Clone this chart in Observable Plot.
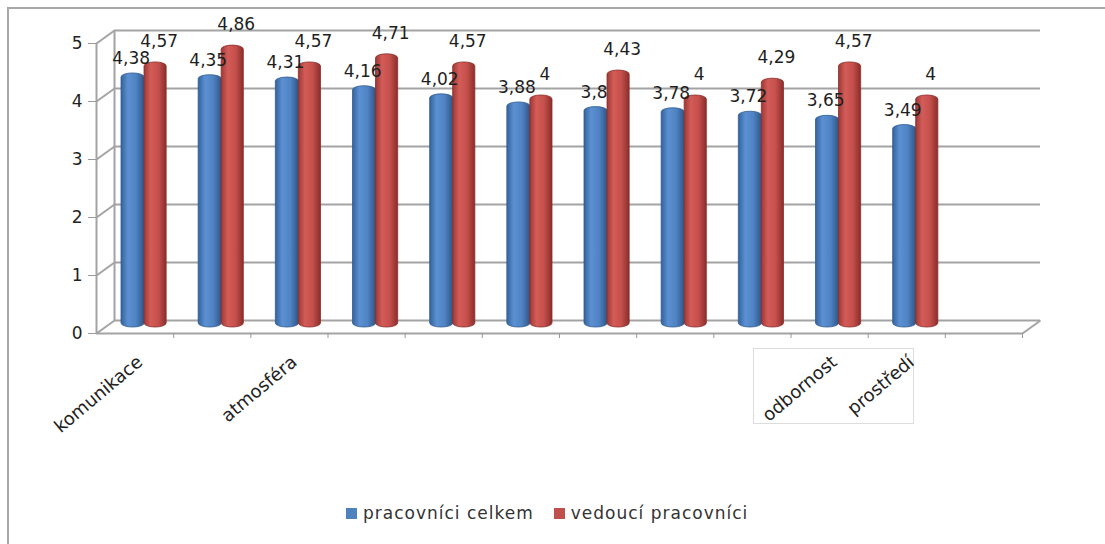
<!DOCTYPE html>
<html>
<head>
<meta charset="utf-8">
<script src="https://cdn.jsdelivr.net/npm/d3@7"></script>
<script src="https://cdn.jsdelivr.net/npm/@observablehq/plot@0.6"></script>
<style>
  html, body { margin: 0; padding: 0; background: #fff; }
  #page { position: relative; width: 1105px; height: 544px; overflow: hidden; font-family: "DejaVu Sans", sans-serif; }
  #edge { position: absolute; left: 7px; top: 7px; right: -5px; bottom: -5px; border-top: 2px solid #a8a8a8; border-left: 2px solid #a8a8a8; }
  #patch { position: absolute; left: 753px; top: 348px; width: 159px; height: 74px; border: 1px solid #dcdcdc; }
  #chart { position: absolute; left: 0; top: 0; }
  #legend { position: absolute; top: 503px; left: 346px; display: flex; gap: 20px; font-size: 17px; letter-spacing: 1px; color: #333; }
  #legend span.item { display: flex; align-items: center; gap: 6px; }
  #legend i { display: inline-block; width: 11px; height: 11px; }
</style>
</head>
<body>
<svg width="0" height="0" style="position:absolute">
  <defs>
    <linearGradient id="blueCyl" x1="0" x2="1" y1="0" y2="0">
      <stop offset="0%" stop-color="#34639d"/>
      <stop offset="30%" stop-color="#5b90d2"/>
      <stop offset="65%" stop-color="#4f83c3"/>
      <stop offset="100%" stop-color="#2e5687"/>
    </linearGradient>
    <linearGradient id="redCyl" x1="0" x2="1" y1="0" y2="0">
      <stop offset="0%" stop-color="#9c3936"/>
      <stop offset="30%" stop-color="#d45c58"/>
      <stop offset="65%" stop-color="#c44f4b"/>
      <stop offset="100%" stop-color="#8a2e2b"/>
    </linearGradient>
  </defs>
</svg>
<div id="page">
  <div id="edge"></div>
  <div id="patch"></div>
  <div id="chart"></div>
  <div id="legend"></div>
</div>
<script>
// Survey scores (scale 0–5) by area; only some areas carry a printed name.
const categories = ["komunikace", "", "atmosféra", "", "", "", "", "", "", "odbornost", "prostředí"];
const celkem = [4.38, 4.35, 4.31, 4.16, 4.02, 3.88, 3.8, 3.78, 3.72, 3.65, 3.49];
const vedouci = [4.57, 4.86, 4.57, 4.71, 4.57, 4, 4.43, 4, 4.29, 4.57, 4];
const seriesNames = ["pracovníci celkem", "vedoucí pracovníci"];
const seriesColors = ["#4f81bd", "#c0504d"];
const yTicks = [0, 1, 2, 3, 4, 5];
const slotCount = 12; // one spare slot at the right end of the floor

const fmt = v => String(v).replace(".", ",");

const rows = [];
categories.forEach((c, i) => {
  rows.push({i, s: 0, v: celkem[i]});
  rows.push({i, s: 1, v: vedouci[i]});
});
const blue = rows.filter(d => d.s === 0);
const red = rows.filter(d => d.s === 1);
const named = categories.map((name, i) => ({i, name})).filter(d => d.name);

// depth of the pseudo-3D box, expressed in scale units
const depthX = 18 / 77.08;
const depthY = 13 / 58.2;
const wall = "#a3a3a3";

const chart = Plot.plot({
  width: 1105,
  height: 470,
  marginLeft: 96,
  marginRight: 83,
  marginTop: 43,
  marginBottom: 137,
  style: {fontFamily: "DejaVu Sans, sans-serif", fontSize: "17px", background: "transparent", overflow: "visible"},
  x: {domain: [0, slotCount], axis: null},
  y: {domain: [0, 5], axis: null},
  marks: [
    // back wall gridlines and left wall edge
    Plot.ruleY(yTicks, {y: d => d + depthY, x1: depthX, x2: slotCount + depthX, stroke: wall, strokeWidth: 2}),
    Plot.ruleX([depthX], {y1: depthY, y2: 5 + depthY, stroke: wall, strokeWidth: 2}),
    // side wall diagonals from the front axis to the back wall
    Plot.link(yTicks, {x1: 0, y1: d => d, x2: depthX, y2: d => d + depthY, stroke: wall, strokeWidth: 2}),
    Plot.ruleX([0], {y1: 0, y2: 5, stroke: wall, strokeWidth: 2}),
    // floor front edge and its right corner
    Plot.ruleY([0], {x1: 0, x2: slotCount, stroke: wall, strokeWidth: 2}),
    Plot.link([0], {x1: slotCount, y1: 0, x2: slotCount + depthX, y2: depthY, stroke: wall, strokeWidth: 2}),
    Plot.axisY({ticks: yTicks, tickFormat: d => String(d), tickSize: 8, tickPadding: 6, stroke: "#999", fill: "#222", fontSize: 17, label: null}),
    Plot.axisX({ticks: d3.range(1, slotCount + 1), tickSize: 5, tickFormat: () => "", stroke: "#999", label: null}),
    // cylinders
    Plot.rect(blue, {x1: d => d.i, x2: d => d.i + 1, y1: 0, y2: "v", insetLeft: 15, insetRight: 39, dx: 10, dy: -6,
      rx: 11.5, ry: 4, fill: "url(#blueCyl)", stroke: "#2f5a8f", strokeWidth: 0.8}),
    Plot.rect(red, {x1: d => d.i, x2: d => d.i + 1, y1: 0, y2: "v", insetLeft: 38, insetRight: 17, dx: 10, dy: -6,
      rx: 11, ry: 4, fill: "url(#redCyl)", stroke: "#8a2d2a", strokeWidth: 0.8}),
    // value labels
    Plot.text(blue, {x: d => d.i + 0.5, y: "v", text: d => fmt(d.v), dx: -4, dy: -21, fill: "#1e1e1e", fontSize: 17}),
    Plot.text(red, {x: d => d.i + 0.5, y: "v", text: d => fmt(d.v), dx: 24, dy: -27, fill: "#1e1e1e", fontSize: 17}),
    // category names
    Plot.text(named, {x: d => d.i + 0.5, y: 0, text: "name", rotate: -40, textAnchor: "end", dx: 5, dy: 26, fill: "#222", fontSize: 18})
  ]
});
document.getElementById("chart").appendChild(chart);

const legend = document.getElementById("legend");
seriesNames.forEach((name, k) => {
  const item = document.createElement("span");
  item.className = "item";
  const sw = document.createElement("i");
  sw.style.background = seriesColors[k];
  item.appendChild(sw);
  item.appendChild(document.createTextNode(name));
  legend.appendChild(item);
});
</script>
</body>
</html>
